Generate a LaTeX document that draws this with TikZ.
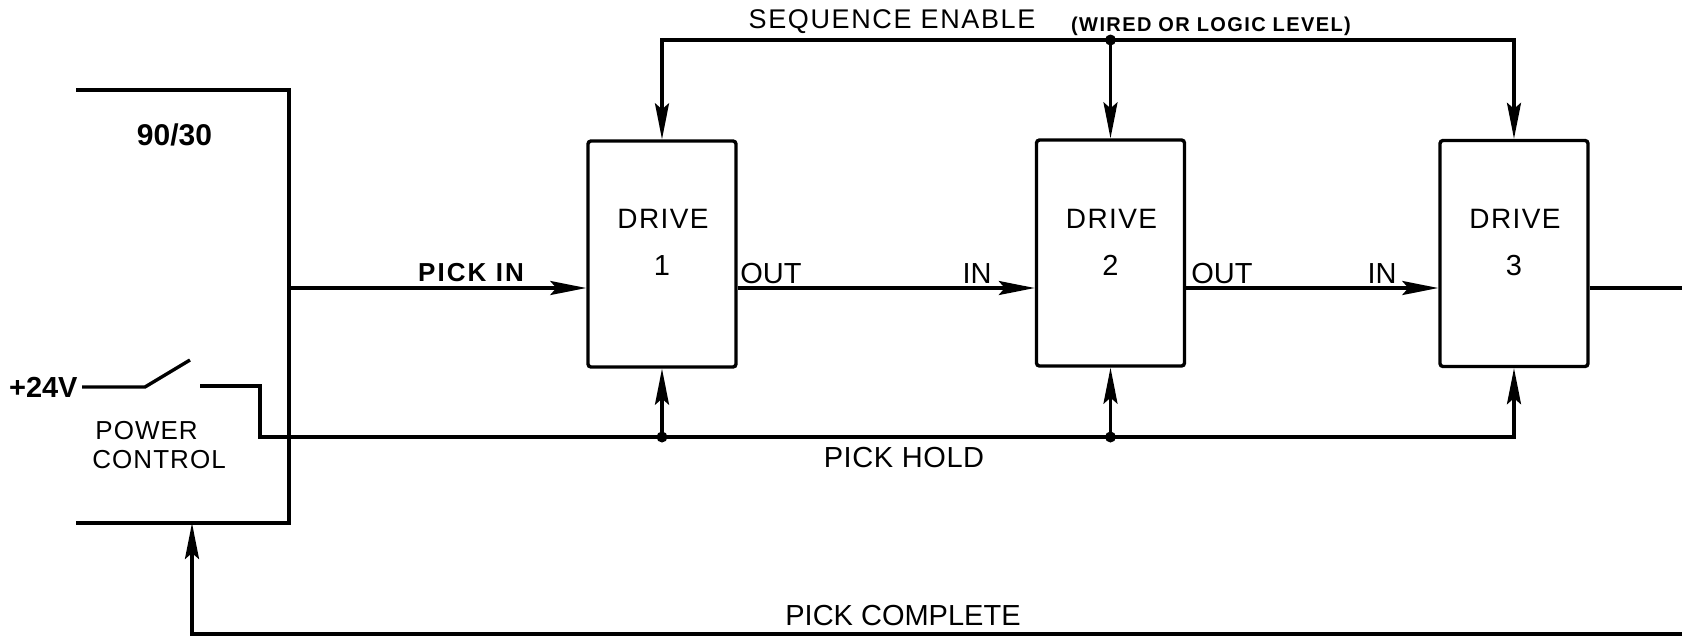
\documentclass[tikz,border=0pt]{standalone}
\usepackage{fontspec}
\setmainfont{Liberation Sans}
\usetikzlibrary{arrows.meta}
\newcommand\fsz[1]{\fontsize{#1}{#1}\selectfont}
\newcommand\lsp[1]{\addfontfeature{LetterSpace=#1}}
\begin{document}
\begin{tikzpicture}[x=0.5pt,y=-0.5pt,
  wire/.style={line width=1.7pt, line join=miter},
  arr/.style={wire, -{Stealth[length=18pt,width=7pt,inset=3pt]}},
  lbl/.style={inner sep=0pt, anchor=base, font=\fsz{14.5}},
  drivebox/.style={draw, line width=1.7pt, rounded corners=1.5pt, minimum width=74pt, minimum height=113pt, inner sep=0pt},
  dot/.style={circle, fill, inner sep=0pt, minimum size=5.5pt}
]
\useasboundingbox (0,0) rectangle (1682,639);

% 90/30 control unit (open box)
\coordinate (bxTL) at (76,90);
\coordinate (bxTR) at (289,90);
\coordinate (bxBR) at (289,523);
\coordinate (bxBL) at (76,523);
\draw[wire] (bxTL) -- (bxTR) -- (bxBR) -- (bxBL);
\node[lbl, font=\bfseries\fsz{15}] (unit) at (174.5,145) {90/30};

% drives
\node[drivebox] (d1) at (662,254) {};
\node[drivebox] (d2) at (1110.5,253) {};
\node[drivebox] (d3) at (1514,253.5) {};
\node[lbl, font=\fsz{14}\lsp{5}] (d1a) at (663,228) {DRIVE};
\node[lbl, font=\fsz{14.5}] (d1b) at (662,275) {1};
\node[lbl, font=\fsz{14}\lsp{5}] (d2a) at (1111.5,228) {DRIVE};
\node[lbl, font=\fsz{14.5}] (d2b) at (1110.5,275) {2};
\node[lbl, font=\fsz{14}\lsp{5}] (d3a) at (1515,228) {DRIVE};
\node[lbl, font=\fsz{14.5}] (d3b) at (1514,275) {3};

% pick in / out-in chain
\coordinate (pin) at (289,288);
\coordinate (outR) at (1682,288);
\draw[arr] (pin) -- (pin -| d1.west);
\draw[arr] (pin -| d1.east) -- (pin -| d2.west);
\draw[arr] (pin -| d2.east) -- (pin -| d3.west);
\draw[wire] (pin -| d3.east) -- (outR);
\node[lbl, font=\bfseries\fsz{13}\lsp{8}] (pickin) at (471,281) {PICK IN};
\node[lbl, anchor=base west] (out1) at (740,283) {OUT};
\node[lbl, anchor=base east] (in2) at (992,283) {IN};
\node[lbl, anchor=base west] (out2) at (1191,283) {OUT};
\node[lbl, anchor=base east] (in3) at (1397,283) {IN};

% sequence enable
\node[dot] (seqJ) at (1110.5,40) {};
\draw[arr] (seqJ.center) -| (d1.north);
\draw[arr] (seqJ.center) -- (d2.north);
\draw[arr] (seqJ.center) -| (d3.north);
\node[lbl, font=\fsz{13.5}\lsp{6}] (seqt) at (892,28) {SEQUENCE ENABLE};
\node[lbl, font=\bfseries\fsz{10}\lsp{7}] (wired) at (1211,31) {(WIRED OR LOGIC LEVEL)};

% +24V switch and pick hold
\node[lbl, anchor=base east, font=\bfseries\fsz{14.5}] (v24) at (78,397) {+24V};
\coordinate (swA) at (82,387);
\coordinate (swB) at (145,387);
\coordinate (swC) at (190,360);
\coordinate (swD) at (200,386);
\coordinate (swE) at (260,386);
\coordinate (phL) at (260,437);
\draw[wire] (swA) -- (swB) -- (swC);
\draw[arr] (swD) -- (swE) -- (phL) -| (d3.south);
\node[dot] (j1) at (662,437) {};
\node[dot] (j2) at (1110.5,437) {};
\draw[arr] (j1.center) -- (d1.south);
\draw[arr] (j2.center) -- (d2.south);
\node[lbl, anchor=base west, font=\fsz{13}\lsp{4}] (pw) at (95,439) {POWER};
\node[lbl, anchor=base west, font=\fsz{13}\lsp{4}] (ctl) at (92,468) {CONTROL};
\node[lbl, font=\fsz{14.5}\lsp{2}] (phold) at (904,467) {PICK HOLD};

% pick complete
\coordinate (pcR) at (1682,634);
\coordinate (pcT) at (192,523);
\draw[arr] (pcR) -| (pcT);
\node[lbl, font=\fsz{14.5}] (pcomp) at (903,625) {PICK COMPLETE};
\end{tikzpicture}
\end{document}
